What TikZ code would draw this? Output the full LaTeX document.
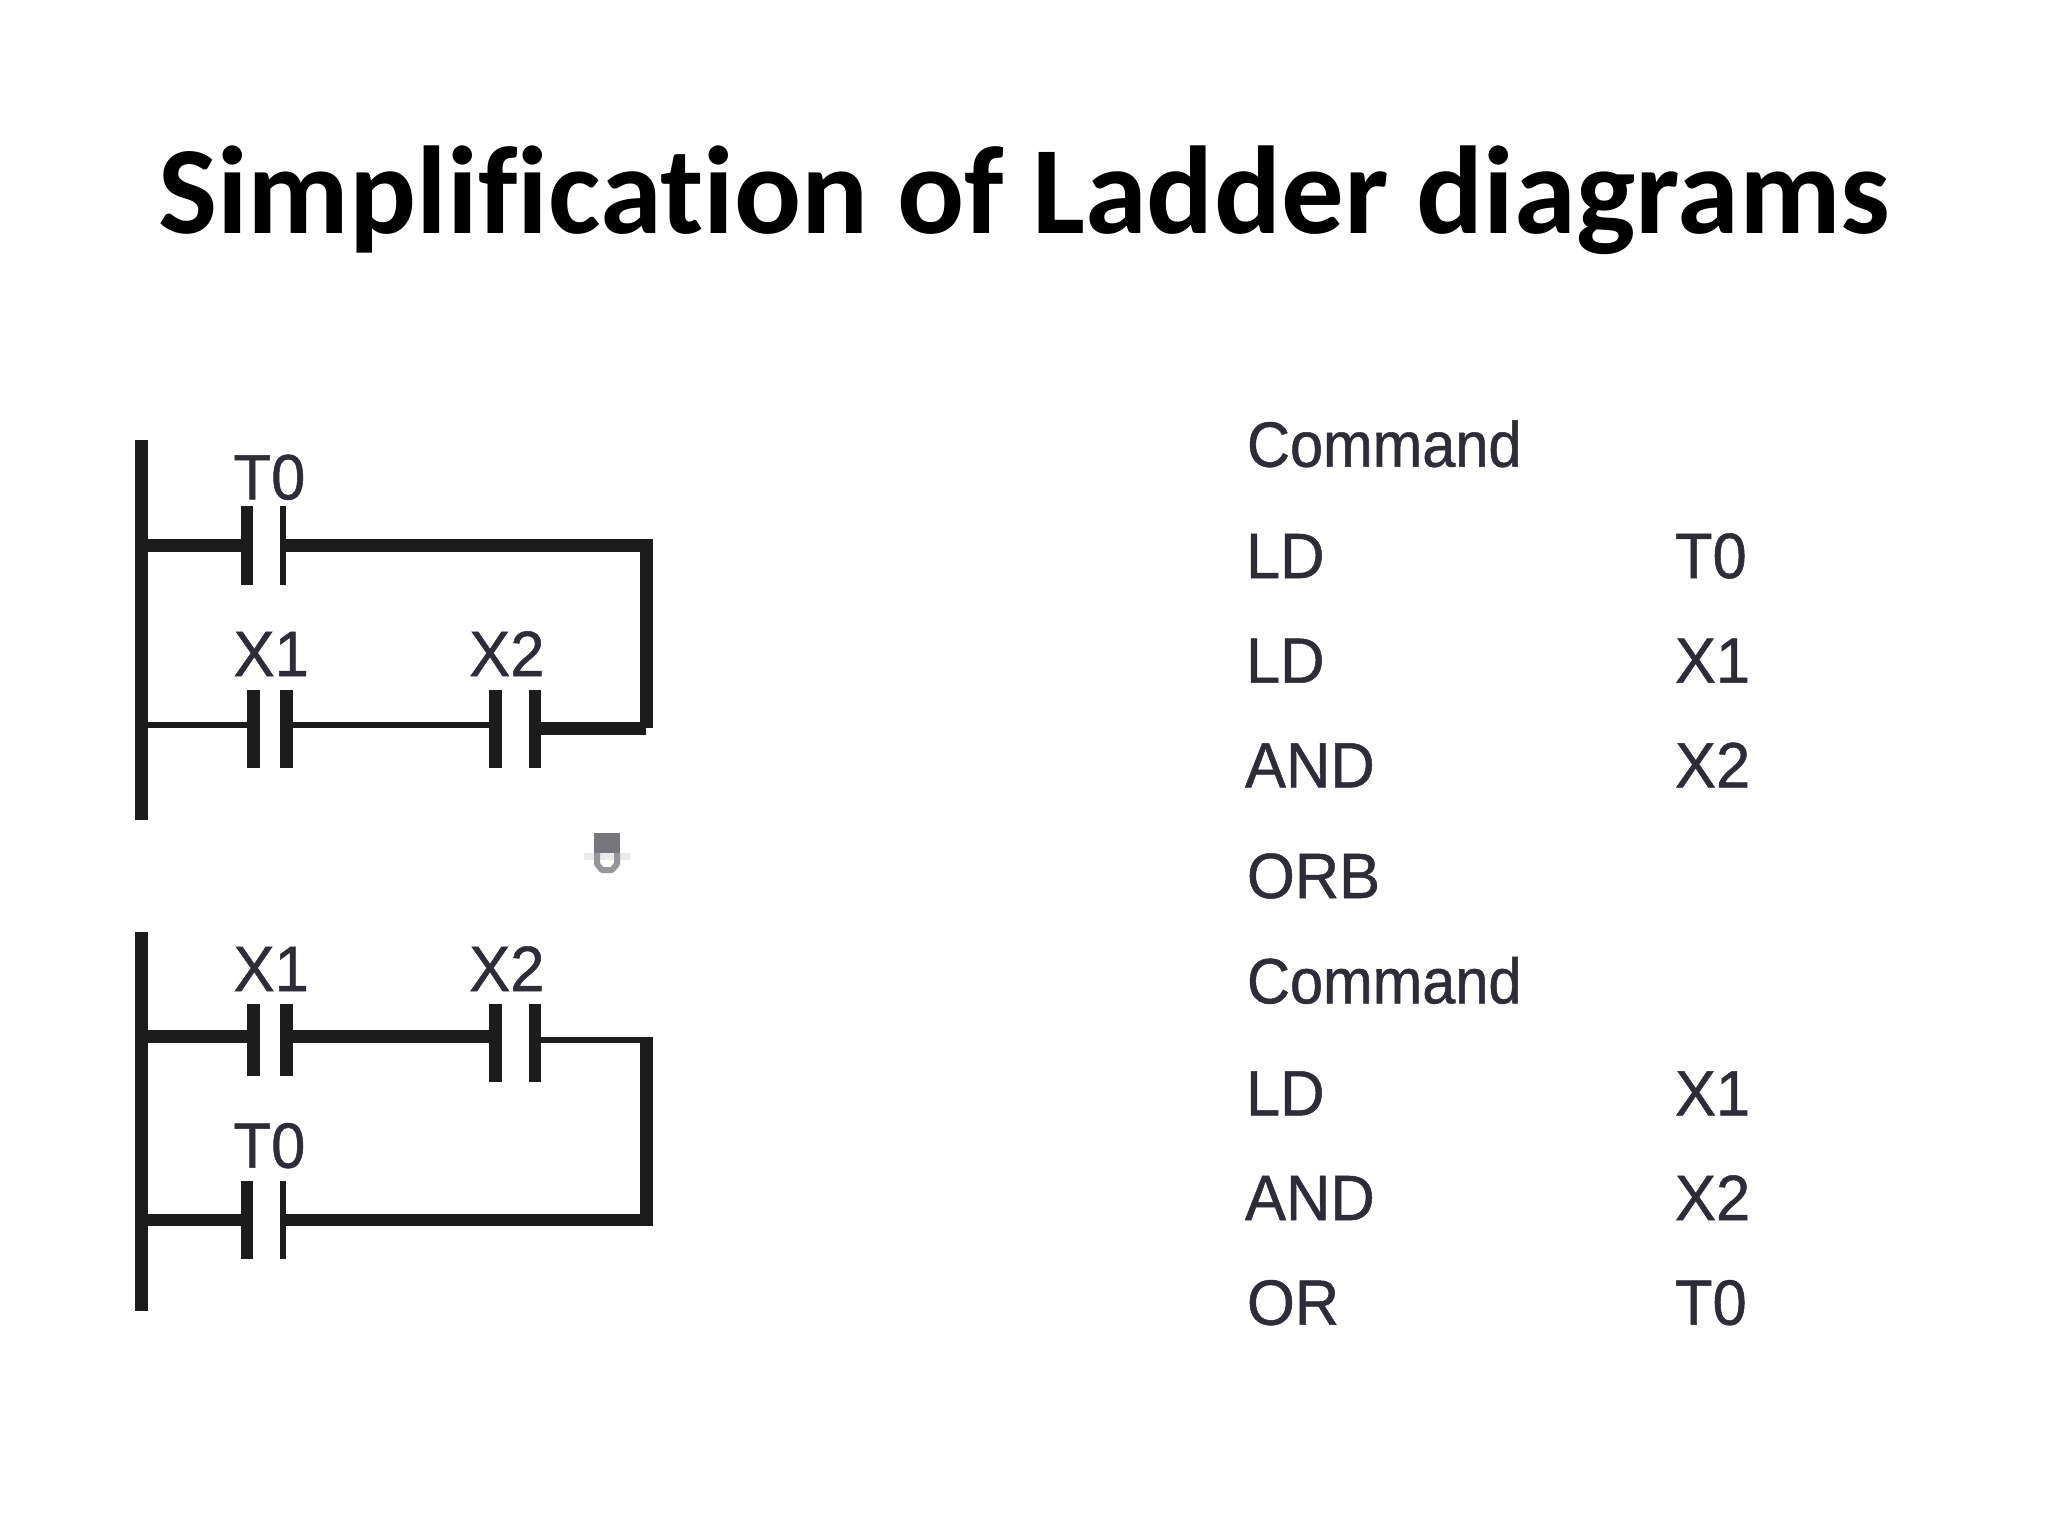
\documentclass[tikz,border=0pt]{standalone}
\usepackage{fontspec}
\setmainfont{Liberation Sans}
\newfontfamily\titlefont{Carlito}[BoldFont=Carlito Bold,Ligatures=NoCommon]
\newfontfamily\labfont{Liberation Sans}[FakeStretch=0.96,FakeBold=0.8]
\newfontfamily\cmdfont{Liberation Sans}[FakeStretch=0.93,FakeBold=0.8]
\definecolor{ink}{HTML}{1C1C1C}
\definecolor{labink}{HTML}{2E2C38}
\tikzset{
  bar/.style={fill=ink,inner sep=0pt,outer sep=0pt,draw=none},
  wire/.style={draw=ink,line cap=butt},
  thin wire/.style={wire,line width=3pt},
  thick wire/.style={wire,line width=6.35pt},
  lab/.style={anchor=base west,inner sep=0pt,outer sep=0pt,text=labink,font=\labfont\fontsize{32}{32}\selectfont},
  cmd/.style={lab,font=\cmdfont\fontsize{32}{32}\selectfont},
  ttl/.style={anchor=base,inner sep=0pt,outer sep=0pt,text=black,font=\titlefont\bfseries\fontsize{62.5}{62.5}\selectfont}
}
% name, x1, x2, y1, y2 in reference pixels
\newcommand{\barnode}[5]{%
  \pgfmathsetmacro{\bw}{(#3-#2)*0.5}\pgfmathsetmacro{\bh}{(#5-#4)*0.5}%
  \pgfmathsetmacro{\bx}{(#2+#3)/2}\pgfmathsetmacro{\by}{(#4+#5)/2}%
  \node[bar,minimum width=\bw pt,minimum height=\bh pt] (#1) at (\bx,\by) {};}
\begin{document}
\begin{tikzpicture}[x=0.5pt,y=-0.5pt]
\useasboundingbox[fill=white] (0,0) rectangle (2048,1536);
\node[ttl] (title) at (1024,233) {Simplification of Ladder diagrams};

% upper ladder
\barnode{ra}{135.4}{147.9}{440}{820}
\barnode{aTl}{240.7}{252.9}{506}{584.7}
\barnode{aTr}{279.6}{286.1}{506}{584.7}
\barnode{aAl}{246.8}{259.6}{690}{768}
\barnode{aAr}{279.6}{292.5}{690}{768}
\barnode{aBl}{488.9}{502.1}{690}{768}
\barnode{aBr}{528.6}{541.4}{690}{768}
\coordinate (aC1) at (652.9,545.3);
\coordinate (aC2) at (646.5,539);
\coordinate (aC3) at (646.5,728);
\coordinate (aC4) at (646.1,728.7);
\draw[thick wire] (ra.east |- aC1) -- (aTl.west |- aC1);
\draw[thick wire] (aTr.east |- aC1) -- (aC1);
\draw[wire,line width=6.4pt] (aC2) -- (aC3);
\draw[thick wire] (aBr.east |- aC4) -- (aC4);
\coordinate (aM) at (0,725.3);
\draw[thin wire] (ra.east |- aM) -- (aAl.west |- aM);
\draw[thin wire] (aAr.east |- aM) -- (aBl.west |- aM);
\node[lab] (lT0a) at (233.6,499.3) {T0};
\node[lab] (lX1a) at (233.6,676) {X1};
\node[lab] (lX2a) at (469.3,676) {X2};

% marker between the ladders
\fill[labink!10] (584,853) rectangle (630,860);
\fill[labink!65] (593.9,833.3) rectangle (620,853);
\draw[labink!50,line width=3pt,line cap=butt,line join=round]
  (597,853) -- (597,864) -- (602,870) -- (612,870) -- (617,864) -- (617,853);

% lower ladder
\barnode{rb}{135.4}{147.9}{932.3}{1311.3}
\barnode{bAl}{246.8}{259.6}{1004}{1075.7}
\barnode{bAr}{279.6}{292.5}{1004}{1075.7}
\barnode{bBl}{488.9}{502.1}{1004}{1082.3}
\barnode{bBr}{528.6}{541.4}{1004}{1082.3}
\barnode{bTl}{240.7}{252.9}{1180.7}{1259}
\barnode{bTr}{279.6}{286.1}{1180.7}{1259}
\coordinate (bM) at (0,1036.3);
\draw[thick wire] (rb.east |- bM) -- (bAl.west |- bM);
\draw[thick wire] (bAr.east |- bM) -- (bBl.west |- bM);
\coordinate (bC1) at (652.9,1040.2);
\coordinate (bC2) at (646.5,1037);
\coordinate (bC3) at (646.5,1226.3);
\coordinate (bC4) at (652.9,1220);
\draw[wire,line width=3.2pt] (bBr.east |- bC1) -- (bC1);
\draw[wire,line width=6.4pt] (bC2) -- (bC3);
\draw[thick wire] (rb.east |- bC4) -- (bTl.west |- bC4);
\draw[thick wire] (bTr.east |- bC4) -- (bC4);
\node[lab] (lX1b) at (233.6,991) {X1};
\node[lab] (lX2b) at (469.3,991) {X2};
\node[lab] (lT0b) at (233.6,1167.7) {T0};

% command lists
\node[cmd] (c1) at (1247,466.7) {Command};
\node[lab] (c2) at (1246,578) {LD};
\node[lab] (c3) at (1246,682.7) {LD};
\node[lab] (c4) at (1245,787.3) {AND};
\node[lab] (c5) at (1247,898) {ORB};
\node[cmd] (c6) at (1247,1003.3) {Command};
\node[lab] (c7) at (1246,1115.3) {LD};
\node[lab] (c8) at (1245,1220) {AND};
\node[lab] (c9) at (1247,1324.7) {OR};
\node[lab] (o2) at (1675,578) {T0};
\node[lab] (o3) at (1675,682.7) {X1};
\node[lab] (o4) at (1675,787.3) {X2};
\node[lab] (o7) at (1675,1115.3) {X1};
\node[lab] (o8) at (1675,1220) {X2};
\node[lab] (o9) at (1675,1324.7) {T0};
\end{tikzpicture}
\end{document}
